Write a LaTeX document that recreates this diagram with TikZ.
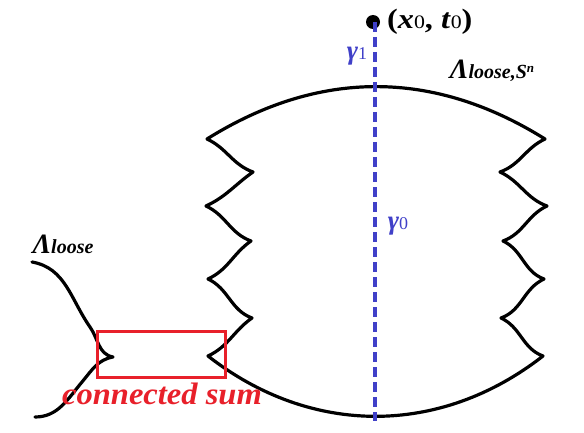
\documentclass[tikz,border=0pt]{standalone}
\usepackage{fontspec}
\setmainfont{Liberation Serif}
\usetikzlibrary{positioning}
\definecolor{pathblue}{HTML}{4040C8}
\definecolor{sumred}{HTML}{E8202A}

\tikzset{
  front/.style={line width=3.2pt, line cap=round, line join=round},
  gammalabel/.style={text=pathblue, font=\fontsize{27}{29}\selectfont\bfseries\itshape, inner sep=0pt},
  lambdalabel/.style={font=\fontsize{28}{30}\selectfont\bfseries\itshape, inner sep=0pt}
}

\begin{document}
\begin{tikzpicture}[x=1pt, y=1pt]
    \useasboundingbox (0,0) rectangle (584,432);

    % Cusps of the big front (left column L, right column A/B)
    \coordinate (L1) at (207,293);
    \coordinate (R1) at (253,260);
    \coordinate (L2) at (206,226);
    \coordinate (R2) at (251,191);
    \coordinate (L3) at (208,153);
    \coordinate (R3) at (252,114);
    \coordinate (L4) at (208,76);
    \coordinate (A1) at (545,293);
    \coordinate (B1) at (500,260);
    \coordinate (A2) at (547,226);
    \coordinate (B2) at (503,191);
    \coordinate (A3) at (544,153);
    \coordinate (B3) at (501,114);
    \coordinate (A4) at (543,76);

    % Big front Lambda_{loose,S^n}
    \draw[front] (L1) to[out=32,in=148] (A1)
        to[out=205,in=20] (B1) to[out=-25,in=160] (A2)
        to[out=205,in=20] (B2) to[out=-25,in=160] (A3)
        to[out=205,in=20] (B3) to[out=-25,in=160] (A4)
        to[out=-142,in=-38] (L4)
        to[out=25,in=215] (R3) to[out=160,in=-25] (L3)
        to[out=25,in=215] (R2) to[out=160,in=-25] (L2)
        to[out=25,in=215] (R1) to[out=160,in=-25] (L1);

    % Loose front on the left
    \coordinate (P1) at (32,170);
    \coordinate (C0) at (113,75);
    \coordinate (P2) at (35,15);
    \draw[front] (P1) to[out=-10,in=125] (90,105) to[out=-55,in=170] (C0)
        to[out=190,in=50] (82,50) to[out=230,in=0] (P2);

    % Connected sum region
    \node[draw=sumred, line width=3pt, minimum width=128pt, minimum height=46pt, inner sep=0pt]
        (box) at (161,78) {};
    \node[text=sumred, font=\fontsize{31}{33}\selectfont\bfseries\itshape, inner sep=0pt]
        (sumlabel) at (162,38) {\scalebox{1.05}[1]{connected sum}};

    % Point (x_0,t_0) and the paths gamma
    \fill (373,410) circle (7pt);
    \coordinate (top) at (375,410);
    \coordinate (bottom) at (375,11);
    \draw[pathblue, line width=3.2pt, dash pattern=on 10pt off 5pt] (top) -- (bottom);
    \node[anchor=west, font=\fontsize{28}{30}\selectfont\bfseries, inner sep=0pt]
        (pt) at (387,410) {\scalebox{1.15}[1]{(\textit{x}{\mdseries\fontsize{19}{21}\selectfont 0}, \textit{t}{\mdseries\fontsize{19}{21}\selectfont 0})}};
    \node[gammalabel] (g1) at (357,376) {γ{\fontsize{18}{20}\selectfont\upshape\mdseries 1}};
    \node[gammalabel] (g0) at (398,206) {γ{\fontsize{18}{20}\selectfont\upshape\mdseries 0}};

    % Front labels
    \node[lambdalabel] (lam1) at (492,361) {Λ{\fontsize{20}{22}\selectfont loose,S\raisebox{6pt}{\fontsize{13}{15}\selectfont n}}};
    \node[lambdalabel] (lam0) at (63,188) {Λ{\fontsize{20}{22}\selectfont loose}};
\end{tikzpicture}
\end{document}
